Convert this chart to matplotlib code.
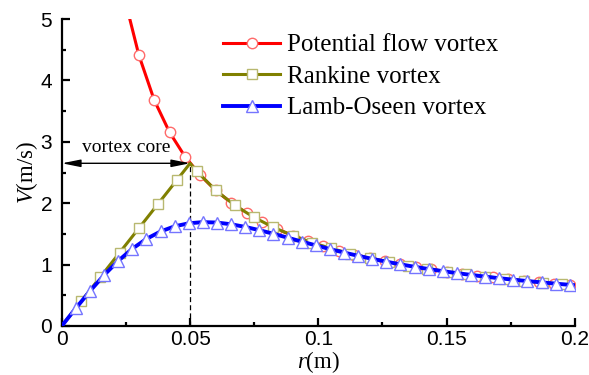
import matplotlib
matplotlib.use('Agg')
import matplotlib.pyplot as plt
from matplotlib.ticker import MultipleLocator

plt.rcParams['mathtext.fontset'] = 'custom'
plt.rcParams['mathtext.it'] = 'Liberation Serif:italic'
plt.rcParams['mathtext.rm'] = 'Liberation Serif'

# potential flow vortex (line starts where it enters the plot at V=5)
r_pot = [0.0265, 0.030, 0.036, 0.042, 0.048, 0.054, 0.060, 0.066, 0.072, 0.078,
         0.084, 0.090, 0.096, 0.102, 0.108, 0.114, 0.120, 0.126, 0.132, 0.138,
         0.144, 0.150, 0.156, 0.162, 0.168, 0.174, 0.180, 0.186, 0.192, 0.198, 0.200]
v_pot = [5.00, 4.417, 3.681, 3.155, 2.760, 2.454, 2.208, 2.008, 1.840, 1.699,
         1.577, 1.472, 1.380, 1.299, 1.227, 1.162, 1.104, 1.052, 1.004, 0.960,
         0.920, 0.883, 0.849, 0.818, 0.789, 0.761, 0.736, 0.712, 0.690, 0.669, 0.6625]

# rankine vortex
r_rank = [0.0, 0.0075, 0.015, 0.0225, 0.030, 0.0375, 0.045, 0.050, 0.0525, 0.060,
          0.0675, 0.075, 0.0825, 0.090, 0.0975, 0.105, 0.1125, 0.120, 0.1275, 0.135,
          0.1425, 0.150, 0.1575, 0.165, 0.1725, 0.180, 0.1875, 0.195, 0.200]
v_rank = [0.0, 0.398, 0.795, 1.193, 1.590, 1.988, 2.385, 2.650, 2.524, 2.208,
          1.963, 1.767, 1.606, 1.472, 1.359, 1.262, 1.178, 1.104, 1.039, 0.981,
          0.930, 0.883, 0.841, 0.803, 0.768, 0.736, 0.707, 0.679, 0.6625]

# lamb-oseen vortex
r_lo = [0.0, 0.0055, 0.011, 0.0165, 0.022, 0.0275, 0.033, 0.0385, 0.044, 0.0495,
        0.055, 0.0605, 0.066, 0.0715, 0.077, 0.0825, 0.088, 0.0935, 0.099, 0.1045,
        0.110, 0.1155, 0.121, 0.1265, 0.132, 0.1375, 0.143, 0.1485, 0.154, 0.1595,
        0.165, 0.1705, 0.176, 0.1815, 0.187, 0.1925, 0.198, 0.200]
v_lo = [0.0, 0.290, 0.569, 0.829, 1.060, 1.258, 1.418, 1.539, 1.623, 1.672,
        1.691, 1.684, 1.656, 1.613, 1.560, 1.501, 1.438, 1.374, 1.312, 1.252,
        1.195, 1.142, 1.092, 1.046, 1.003, 0.963, 0.926, 0.892, 0.860, 0.831,
        0.803, 0.777, 0.753, 0.730, 0.709, 0.688, 0.669, 0.6625]

r_core = 0.05
v_core = 2.65

fig = plt.figure(figsize=(5.89, 3.75), dpi=100)
ax = fig.add_axes([0.105, 0.131, 0.871, 0.818])

ax.plot(r_pot, v_pot, '-', color='#ff0000', lw=2.2, marker='o', ms=7.5,
        mfc='white', mec='#ff6a6a', mew=1.0, markevery=list(range(1, 30)),
        label='Potential flow vortex', zorder=3)
rank_marks = [i for i in range(1, len(r_rank) - 1) if r_rank[i] != r_core]
ax.plot(r_rank, v_rank, '-', color='#808000', lw=2.2, marker='s', ms=7,
        mfc='white', mec='#b8b870', mew=1.0, markevery=rank_marks,
        label='Rankine vortex', zorder=4)
ax.plot(r_lo, v_lo, '-', color='#0000ff', lw=2.8, marker='^', ms=8,
        mfc='white', mec='#7575ff', mew=1.0, markevery=list(range(1, len(r_lo) - 1)),
        label='Lamb-Oseen vortex', zorder=5)

# vortex core marker
ax.plot([r_core, r_core], [0, v_core], '--', color='k', lw=0.9, dashes=(4, 2.5), zorder=2)
ax.annotate('', xy=(0, v_core), xytext=(r_core, v_core),
            arrowprops=dict(arrowstyle='<|-|>,head_length=0.8,head_width=0.16',
                            color='k', lw=1.0, shrinkA=0, shrinkB=0,
                            mutation_scale=14), zorder=6)
ax.text(r_core / 2, v_core + 0.12, 'vortex core', ha='center', va='bottom',
        fontsize=14, family='Liberation Serif')

ax.set_xlim(0, 0.2)
ax.set_ylim(0, 5)
ax.xaxis.set_major_locator(MultipleLocator(0.05))
ax.xaxis.set_minor_locator(MultipleLocator(0.025))
ax.yaxis.set_major_locator(MultipleLocator(1))
ax.yaxis.set_minor_locator(MultipleLocator(0.5))
ax.set_xticks([0, 0.05, 0.1, 0.15, 0.2])
ax.set_xticklabels(['0', '0.05', '0.1', '0.15', '0.2'])

for s in ['top', 'right']:
    ax.spines[s].set_visible(False)
for s in ['left', 'bottom']:
    ax.spines[s].set_linewidth(1.6)
ax.tick_params(which='both', direction='in', width=1.6)
ax.tick_params(which='major', length=5.5, labelsize=15)
ax.tick_params(which='minor', length=3)
ax.tick_params(axis='y', pad=7)
ax.tick_params(axis='x', pad=3)
for lab in ax.get_xticklabels() + ax.get_yticklabels():
    lab.set_family('Liberation Sans')

ax.set_xlabel('$r$(m)', fontsize=16.5, family='Liberation Serif')
ax.xaxis.set_label_coords(0.5, -0.074)
ax.set_ylabel('$V$(m/s)', fontsize=16.5, family='Liberation Serif', labelpad=0)

leg = ax.legend(loc='upper left', bbox_to_anchor=(0.314, 0.952), frameon=False,
                prop={'family': 'Liberation Serif', 'size': 18},
                handlelength=2.3, handletextpad=0.25, labelspacing=0.36,
                borderaxespad=0, borderpad=0)

fig.savefig('out.png', dpi=100)
